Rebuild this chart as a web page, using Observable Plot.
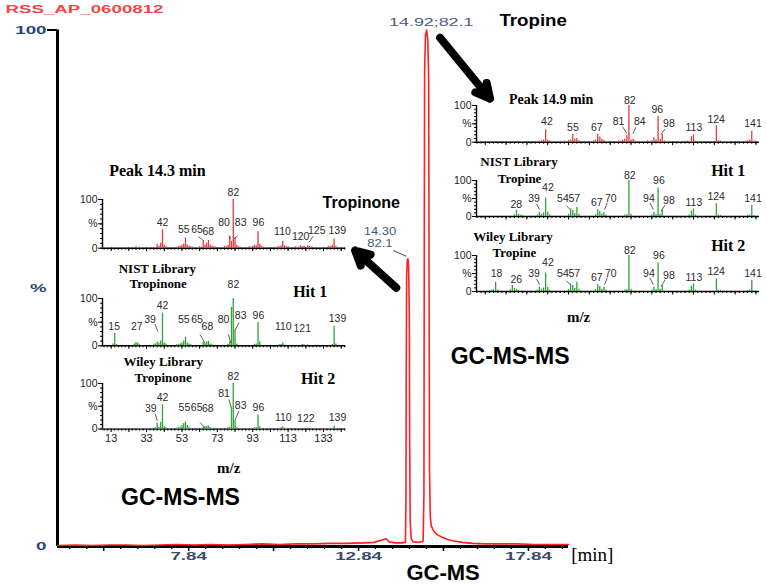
<!DOCTYPE html>
<html><head><meta charset="utf-8">
<script src="https://cdn.jsdelivr.net/npm/d3@7"></script>
<script src="https://cdn.jsdelivr.net/npm/@observablehq/plot@0.6"></script>
<style>
html,body{margin:0;padding:0;background:#fff;}
#wrap{position:relative;width:767px;height:585px;overflow:hidden;background:#fff;}
#wrap svg{position:absolute;overflow:visible;background:none;}
</style></head><body><div id="wrap"></div>
<script>
// ---------------- DATA ----------------
// GC-MS chromatogram (retention time, min ; relative intensity, %)
const chromTime = [3.98,4.5,5.0,5.5,6.0,6.5,7.0,7.5,8.0,8.5,9.0,9.5,10.0,10.5,11.0,11.5,12.0,12.5,13.0,13.3,13.55,13.65,13.75,13.9,14.1,14.22,14.235,14.245,14.255,14.275,14.295,14.315,14.335,14.345,14.36,14.39,14.45,14.6,14.74,14.765,14.775,14.785,14.81,14.845,14.88,14.905,14.915,14.93,14.95,14.98,15.05,15.15,15.3,15.45,15.6,15.9,16.2,16.6,17.0,17.5,18.0,18.5,19.02];
const chromInt  = [0.2,0.3,0.2,0.3,0.3,0.2,0.3,0.4,0.3,0.4,0.3,0.4,0.5,0.4,0.5,0.5,0.6,0.6,0.7,0.8,1.3,1.5,0.9,0.7,0.7,0.8,8,35,52,55.5,55.7,54,45,20,5,1.5,0.9,0.8,1,10,60,92,99,100,98,90,55,15,6,4,3,2.3,1.8,1.4,1.1,0.8,0.6,0.5,0.5,0.5,0.4,0.4,0.4];
const chromTitle = "RSS_AP_0600812";
const xTickLabels = [7.84, 12.84, 17.84];
const xMajorTicks = [5.34, 7.84, 10.34, 12.84, 15.34, 17.84];
const xMinorTicks = d3.range(4.34, 19.0, 0.5);

// Peak 14.3 min (measured spectrum)
const s143Mz  = [27,29,39,40,41,42,43,44,50,51,52,53,54,55,56,57,58,59,63,64,65,66,67,68,69,70,71,72,77,78,79,80,81,82,83,84,85,86,91,92,93,94,95,96,97,98,99,105,107,108,109,110,111,112,113,117,119,120,121,122,124,125,126,127,135,136,137,138,139,140];
const s143Int = [3,2,8,4,10,38,6,3,2,3,4,6,8,21,6,4,3,2,3,2,14,6,10,16,6,4,3,2,4,3,6,24,14,100,22,6,3,2,3,2,4,6,5,34,8,4,2,2,3,3,5,14,5,3,3,3,2,5,3,4,5,4,3,2,2,4,3,6,19,4];
const s143Lab = ["42","55","65","68","80","82","83","96","110","120","125","139"];
const s143LabMz = [42,54.0,61.5,67.9,76.8,82.1,86.2,96.2,109.8,120.1,129.2,140.8];
const s143LabV  = [53,38,38,34,53,115,53,53,33,24,36,36];

// NIST library – Tropinone
const nistTnMz  = [14,15,16,26,27,28,29,37,38,39,40,41,42,43,44,50,51,52,53,54,55,56,57,58,65,66,67,68,69,70,79,80,81,82,83,84,94,95,96,97,108,109,110,111,121,122,124,138,139,140];
const nistTnInt = [4,26,3,4,7,6,3,3,4,8,5,10,69,6,4,2,3,4,6,10,18,6,4,2,7,5,8,9,4,2,3,8,81,100,32,4,3,4,49,8,2,3,6,2,3,2,2,3,41,4];
const nistTnLab = ["15","27","39","42","55","65","68","80","82","83","96","110","121","139"];
const nistTnLabMz = [14.7,27.5,35,42,54.0,61.5,67.4,76.5,82.1,86.2,96.2,110.3,121,140.9];
const nistTnLabV  = [41,41,56,84,56,56,41,56,130,63,63,41,37,58];

// Wiley library – Tropinone
const wileyTnMz  = [38,39,40,41,42,43,44,50,51,52,53,54,55,56,57,65,66,67,68,69,79,80,81,82,83,84,94,95,96,97,109,110,111,122,124,138,139,140];
const wileyTnInt = [3,13,4,15,53,5,3,2,3,4,8,12,16,8,4,4,5,6,7,3,3,4,47,100,18,3,3,3,31,5,3,5,2,2,2,2,7,2];
const wileyTnLab = ["39","42","55","65","68","81","82","83","96","110","122","139"];
const wileyTnLabMz = [35.4,42,54.4,61.3,67.6,76.8,82.1,86.2,96.2,110.3,123,140.9];
const wileyTnLabV  = [45,69,47,47,44,77,115,51,47,25,22,25];
const mzTickLabels = [13,33,53,73,93,113,133];

// Peak 14.9 min (measured spectrum)
const s149Mz  = [39,40,41,42,43,44,51,53,54,55,56,57,58,65,66,67,68,69,70,77,78,79,80,81,82,83,84,85,91,93,94,95,96,97,98,99,108,110,112,113,114,122,124,125,126,138,139,140,141,142];
const s149Int = [3,4,6,34,5,3,3,5,6,21,8,10,4,4,6,21,14,8,5,3,3,5,8,18,100,6,8,3,4,3,12,6,71,8,21,3,2,3,15,20,3,2,45,4,3,3,4,6,30,3];
const s149Lab = ["42","55","67","81","82","84","96","98","113","124","141"];
const s149LabMz = [42.6,55.1,66.6,77,82.4,87.2,95.6,101.2,113.2,123.9,141.6];
const s149LabV  = [55,39,39,55,112,55,89,50,41,61,50];

// NIST library – Tropine
const nistTpMz  = [27,28,29,30,31,38,39,40,41,42,43,44,53,54,55,56,57,58,66,67,68,69,70,71,80,81,82,83,93,94,95,96,97,98,111,112,113,114,124,125,126,139,140,141,142];
const nistTpInt = [5,17,6,4,3,4,12,6,10,51,12,4,6,21,17,8,26,6,5,19,14,6,12,4,4,5,100,6,4,12,5,79,6,17,4,15,21,4,35,4,3,3,4,31,3];
const nistTpLab = ["28","39","42","54","57","67","70","82","94","96","98","113","124","141"];
const nistTpLabMz = [27.9,36.4,43.1,50.3,55.8,66.6,73.3,82.4,91.6,96.4,101.2,113.2,123.9,141.6];
const nistTpLabV  = [33,51,79,51,51,38,51,114,51,100,44,38,54,51];

// Wiley library – Tropine
const wileyTpMz  = [15,16,17,18,19,25,26,27,28,29,38,39,40,41,42,43,44,53,54,55,56,57,58,66,67,68,69,70,71,80,81,82,83,93,94,95,96,97,98,111,112,113,114,124,125,126,139,140,141,142];
const wileyTpInt = [3,4,5,26,4,5,17,8,6,4,4,12,6,10,51,12,4,6,21,17,8,26,6,5,19,14,6,12,4,4,5,100,6,4,12,5,79,6,17,4,15,21,4,35,4,3,3,4,31,3];
const wileyTpLab = ["18","26","39","42","54","57","67","70","82","94","96","98","113","124","141"];
const wileyTpLabMz = [18.4,27.9,36.4,43.1,50.3,55.8,66.6,73.3,82.4,91.6,96.4,101.2,113.2,123.9,141.6];
const wileyTpLabV  = [49,33,51,79,51,51,38,51,114,51,100,44,38,54,51];

// ---------------- LAYOUT / STYLE ----------------
const SANS = "Arial, Liberation Sans, sans-serif";
const STRETCH = "Liberation Sans, Arial, sans-serif";
const STRETCH2 = "Liberation Sans, Arimo, sans-serif";
const WIDEBOLD = "Liberation Sans, Helvetica, sans-serif";
const SERIF = "Liberation Serif, Times New Roman, serif";
const RED = "#e8383a", GREEN = "#2fa33a";
const wrap = document.getElementById("wrap");

function stretchText(svg, fam, k) {
  svg.querySelectorAll(`g[font-family="${fam}"] text`).forEach(t => {
    const L = t.getComputedTextLength();
    if (L > 0) { t.setAttribute("textLength", (L * k).toFixed(1)); t.setAttribute("lengthAdjust", "spacingAndGlyphs"); }
  });
}

// ---------------- MAIN CHROMATOGRAM ----------------
const chrom = chromTime.map((t, i) => ({t, v: chromInt[i]}));
const T0 = 3.98, T1 = 19.02;
const ann = (t, v, s) => ({t, v, s});
const main = Plot.plot({
  width: 767, height: 585,
  marginLeft: 57, marginRight: 199, marginTop: 29.5, marginBottom: 39,
  x: {domain: [T0, T1], label: null},
  y: {domain: [0, 100], label: null},
  style: {background: "none", overflow: "visible", color: "black"},
  marks: [
    Plot.axisX({ticks: xMinorTicks, tickSize: 3, tickFormat: () => "", label: null, strokeWidth: 1.3}),
    Plot.axisX({ticks: xMajorTicks, tickSize: 5, tickFormat: () => "", label: null, strokeWidth: 1.5}),
    Plot.axisX({ticks: xTickLabels, tickSize: 0, tickPadding: 6, tickFormat: d => d.toFixed(2), label: null,
      fontFamily: STRETCH, fontWeight: "bold", fontSize: 11, fill: "#3b4b6e"}),
    Plot.axisY({ticks: [100], tickSize: 10, tickPadding: 1, tickFormat: d => String(d), label: null, strokeWidth: 2,
      fontFamily: STRETCH, fontWeight: "bold", fontSize: 11, fill: "#26447a"}),
    Plot.axisY({ticks: [0, 50], tickSize: 0, tickPadding: 11, tickFormat: d => d === 50 ? "%" : "0", label: null,
      fontFamily: STRETCH, fontWeight: "bold", fontSize: 11, fill: "#26447a"}),
    Plot.ruleY([0], {stroke: "black", strokeWidth: 3}),
    Plot.ruleX([T0], {y1: 0, y2: 100, stroke: "black", strokeWidth: 3}),
    Plot.line(chrom, {x: "t", y: "v", stroke: "#ff2020", strokeWidth: 1.6}),
    // software labels
    Plot.text([ann(2.45, 104, chromTitle)], {x: "t", y: "v", text: "s", textAnchor: "start", fontFamily: STRETCH, fontWeight: "bold", fontSize: 11, fill: "#f04848"}),
    Plot.text([ann(14.98, 101.5, "14.92;82.1")], {x: "t", y: "v", text: "s", fontFamily: STRETCH, fontSize: 10.5, fill: "#4b5a80"}),
    Plot.text([ann(13.47, 60.9, "14.30"), ann(13.47, 58.6, "82.1")], {x: "t", y: "v", text: "s", fontFamily: STRETCH2, fontSize: 10, fill: "#4b5a80"}),
    Plot.link([{a: 13.86, b: 57.3, c: 14.25, d: 56.2}], {x1: "a", y1: "b", x2: "c", y2: "d", stroke: "#444", strokeWidth: 1}),
    // arrows
    Plot.arrow([{a: 15.24, b: 98.5, c: 16.71, d: 86.7}, {a: 13.95, b: 50.1, c: 12.74, d: 57.3}],
      {x1: "a", y1: "b", x2: "c", y2: "d", stroke: "black", strokeWidth: 8, headLength: 3, headAngle: 55}),
    // annotations
    Plot.text([ann(17.98, 101.9, "Tropine")], {x: "t", y: "v", text: "s", fontFamily: WIDEBOLD, fontWeight: "bold", fontSize: 17, fill: "black"}),
    Plot.text([ann(12.92, 66.6, "Tropinone")], {x: "t", y: "v", text: "s", fontFamily: SANS, fontWeight: "bold", fontSize: 16, fill: "black"}),
    Plot.text([ann(17.30, 36.8, "GC-MS-MS"), ann(7.60, 9.5, "GC-MS-MS")], {x: "t", y: "v", text: "s", fontFamily: SANS, fontWeight: "bold", fontSize: 23, fill: "black"}),
    Plot.text([ann(15.33, -5.2, "GC-MS")], {x: "t", y: "v", text: "s", fontFamily: SANS, fontWeight: "bold", fontSize: 22, fill: "black"}),
    Plot.text([ann(19.1, -1.7, "[min]")], {x: "t", y: "v", text: "s", textAnchor: "start", fontFamily: SERIF, fontSize: 19, fill: "black"})
  ]
});
wrap.appendChild(main);
main.style.left = "0px"; main.style.top = "0px";
stretchText(main, STRETCH, 1.7);
stretchText(main, STRETCH2, 1.3);
stretchText(main, WIDEBOLD, 1.1);

// ---------------- MASS SPECTRA INSETS ----------------
function spectrum(p) {
  const mL = 34, mR = 14, mT = 8, mB = 24;
  const W = p.x1 - p.x0 + mL + mR, H = p.yBase - p.yTop + mT + mB;
  const peaks = p.mz.map((m, i) => ({m, v: p.inten[i]}));
  const labels = p.lab.map((s, i) => ({s, m: p.labMz[i], v: p.labV[i]}));
  const d0 = p.dom[0];
  const marks = [
    Plot.axisY({ticks: d3.range(0, 101, 10), tickSize: 2, tickFormat: () => "", label: null}),
    Plot.axisY({ticks: [0, 50, 100], tickSize: 4, tickPadding: 1, tickFormat: d => d === 50 ? "%" : String(d), label: null, fontSize: 10.5, fontFamily: SANS, fill: "#222"}),
    Plot.axisX({ticks: d3.range(9, p.dom[1], 2), tickSize: 2, tickFormat: () => "", label: null}),
    Plot.axisX({ticks: d3.range(13, p.dom[1], 10), tickSize: 3.5, tickFormat: () => "", label: null}),
    Plot.ruleY([0], {stroke: "black", strokeWidth: 1.4}),
    Plot.ruleX([d0], {y1: 0, y2: 100, stroke: "black", strokeWidth: 1.4}),
    Plot.ruleX(peaks, {x: "m", y1: 0, y2: "v", stroke: p.color, strokeWidth: 1.3}),
    Plot.text(labels, {x: "m", y: "v", text: "s", fontSize: 10.5, fontFamily: SANS, fill: "#2a2a2a"}),
    Plot.link(p.leaders, {x1: d => d[0], y1: d => d[1], x2: d => d[2], y2: d => d[3], stroke: "#333", strokeWidth: 0.8})
  ];
  if (p.tickLabels) marks.push(Plot.axisX({ticks: p.tickLabels, tickSize: 0, tickPadding: 5, label: null, fontSize: 11, fontFamily: SANS, fill: "#222"}));
  for (const t of p.titles) marks.push(Plot.text([t], {x: "m", y: "v", text: "s", fontFamily: SERIF, fontWeight: "bold", fontSize: t.size, fill: "black"}));
  const svg = Plot.plot({
    width: W, height: H, marginLeft: mL, marginRight: mR, marginTop: mT, marginBottom: mB,
    x: {domain: p.dom, label: null}, y: {domain: [0, 100], label: null},
    style: {background: "none", overflow: "visible", color: "black"},
    marks
  });
  wrap.appendChild(svg);
  svg.style.left = (p.x0 - mL) + "px";
  svg.style.top = (p.yTop - mT) + "px";
}
const L = {x0: 101.7, x1: 345, dom: [8.1, 145.6]};
const R = {x0: 476, x1: 759, dom: [8.8, 144.7]};
const T = (s, m, v, size) => ({s, m, v, size});

spectrum({...L, yTop: 199, yBase: 247.7, color: RED, mz: s143Mz, inten: s143Int, lab: s143Lab, labMz: s143LabMz, labV: s143LabV,
  leaders: [[62.3,24,65.5,14.4],[79.6,26,80.6,19.3],[84.4,26,82.8,19.3],[127.2,24.6,124.8,12.3]],
  titles: [T("Peak 14.3 min", 39.1, 158, 16)]});
spectrum({...L, yTop: 297.7, yBase: 345, color: GREEN, mz: nistTnMz, inten: nistTnInt, lab: nistTnLab, labMz: nistTnLabMz, labV: nistTnLabV,
  leaders: [[37.8,46,39.4,30],[63.2,24,65.9,6],[79.2,24,80.6,6],[85.3,49,82.8,32]],
  titles: [T("NIST Library", 39.1, 163, 13), T("Tropinone", 39.6, 130, 13), T("Hit 1", 125.5, 114, 16)]});
spectrum({...L, yTop: 382.7, yBase: 428.3, color: GREEN, mz: wileyTnMz, inten: wileyTnInt, lab: wileyTnLab, labMz: wileyTnLabMz, labV: wileyTnLabV,
  leaders: [[37.8,34,39.1,18],[63.2,14.5,65.9,3.5],[79.6,65,80.9,47],[85.3,40,82.8,18]],
  tickLabels: mzTickLabels,
  titles: [T("Wiley Library", 42.4, 148, 13), T("Tropinone", 42.4, 112, 13), T("Hit 2", 130, 111, 16), T("m/z", 79.4, -85, 15)]});

spectrum({...R, yTop: 105, yBase: 141.7, color: RED, mz: s149Mz, inten: s149Int, lab: s149Lab, labMz: s149LabMz, labV: s149LabV,
  leaders: [[79.1,41,81,23],[85.3,41,84,23],[99.3,36,97.4,21]],
  titles: [T("Peak 14.9 min", 44.6, 116, 14)]});
spectrum({...R, yTop: 180, yBase: 216, color: GREEN, mz: nistTpMz, inten: nistTpInt, lab: nistTpLab, labMz: nistTpLabMz, labV: nistTpLabV,
  leaders: [[37.6,35,39.1,19],[52,30,53.8,19],[71.6,38,70.3,19],[92.1,38,93.7,19],[99.3,32,97.4,14]],
  titles: [T("NIST Library", 29.2, 153, 13), T("Tropine", 29.5, 106, 13), T("Hit 1", 129.7, 128, 16)]});
spectrum({...R, yTop: 255, yBase: 291, color: GREEN, mz: wileyTpMz, inten: wileyTpInt, lab: wileyTpLab, labMz: wileyTpLabMz, labV: wileyTpLabV,
  leaders: [[37.6,35,39.1,19],[52,30,53.8,19],[71.6,38,70.3,19],[92.1,38,93.7,19],[99.3,32,97.4,14]],
  titles: [T("Wiley Library", 26.3, 153, 13), T("Tropine", 27, 108, 13), T("Hit 2", 129.7, 128, 16), T("m/z", 57.8, -72, 15)]});
</script>
</body></html>
